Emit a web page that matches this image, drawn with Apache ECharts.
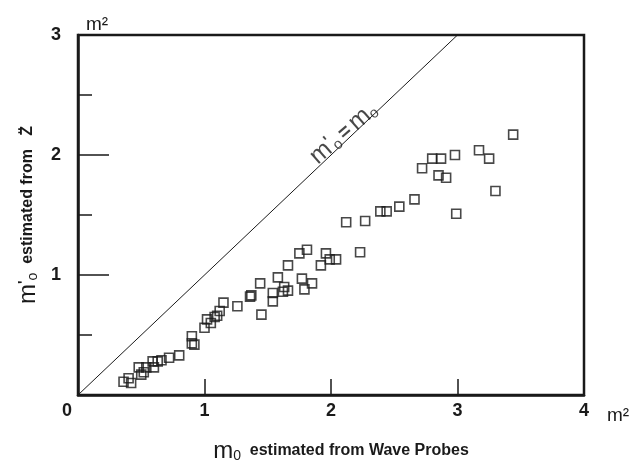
<!DOCTYPE html>
<html>
<head>
<meta charset="utf-8">
<script src="https://cdn.jsdelivr.net/npm/echarts@6/dist/echarts.min.js"></script>
<style>
  html, body { margin: 0; padding: 0; background: #fff; }
  #chart { width: 638px; height: 461px; }
</style>
</head>
<body>
<div id="chart"></div>
<script>
// Spectral moment m0 from wave probes (x) against m'0 from vertical acceleration (y), in m^2
const waveProbeM0 = [
  0.36, 0.42, 0.40, 0.48, 0.50, 0.54, 0.52, 0.59, 0.60, 0.63, 0.66, 0.72, 0.80,
  0.90, 0.90, 0.92, 1.00, 1.02, 1.05, 1.08, 1.10, 1.12, 1.15, 1.26, 1.36, 1.37,
  1.45, 1.44, 1.54, 1.54, 1.58, 1.62, 1.63, 1.66, 1.66, 1.75, 1.81, 1.77, 1.85,
  1.79, 1.92, 1.96, 1.99, 2.04, 2.23, 2.12, 2.27, 2.39, 2.44, 2.54, 2.66, 2.72,
  2.80, 2.87, 2.98, 2.85, 2.91, 2.99, 3.17, 3.25, 3.30, 3.44
];
const accelM0 = [
  0.11, 0.10, 0.14, 0.23, 0.17, 0.23, 0.19, 0.28, 0.23, 0.28, 0.29, 0.31, 0.33,
  0.49, 0.43, 0.42, 0.56, 0.63, 0.60, 0.65, 0.66, 0.70, 0.77, 0.74, 0.82, 0.83,
  0.67, 0.93, 0.85, 0.78, 0.98, 0.86, 0.90, 0.87, 1.08, 1.18, 1.21, 0.97, 0.93,
  0.88, 1.08, 1.18, 1.13, 1.13, 1.19, 1.44, 1.45, 1.53, 1.53, 1.57, 1.63, 1.89,
  1.97, 1.97, 2.00, 1.83, 1.81, 1.51, 2.04, 1.97, 1.70, 2.17
];
const points = waveProbeM0.map((x, i) => [x, accelM0[i]]);

// Line of equality m'0 = m0 and where its caption sits
const identityLine = [[0, 0], [3, 3]];
const identityCaptionAt = [[2.1, 2.18]];

const xTickValues = [0, 1, 2, 3, 4];
const yTickValues = [0, 1, 2, 3];

const ink = '#1a1a1a';
const font = '"Liberation Sans", Arial, sans-serif';

// Rich-text styles shared by the axis titles
const titleRich = {
  m: { fontFamily: font, fontSize: 24, color: ink },
  p: { fontFamily: font, fontSize: 15, fontWeight: 'bold', color: ink, verticalAlign: 'top' },
  s: { fontFamily: font, fontSize: 14, color: ink, verticalAlign: 'bottom' },
  t: { fontFamily: font, fontSize: 16, fontWeight: 'bold', color: ink }
};

const chart = echarts.init(document.getElementById('chart'));
chart.setOption({
  animation: false,
  backgroundColor: '#fff',
  grid: {
    left: 78, right: 54, top: 35, bottom: 66,
    outerBoundsMode: 'none',
    containLabel: false,
    show: true, borderColor: ink, borderWidth: 2.5
  },
  xAxis: {
    type: 'value',
    min: xTickValues[0], max: xTickValues[xTickValues.length - 1], interval: 1,
    name: '{m|m}{s|0}{t|  estimated from Wave Probes}',
    nameLocation: 'middle',
    nameGap: 44,
    nameTextStyle: { rich: titleRich, padding: [0, 0, 0, 20] },
    axisLine: { show: true, lineStyle: { color: ink, width: 2.5 } },
    axisTick: { show: true, inside: true, length: 16, lineStyle: { color: ink, width: 1.5 } },
    splitLine: { show: false },
    axisLabel: {
      margin: 7,
      fontFamily: font, fontSize: 18, fontWeight: 'bold', color: ink,
      formatter: v => v === 0 ? '{z|0}' : String(v),
      rich: { z: { fontFamily: font, fontSize: 18, fontWeight: 'bold', color: ink, padding: [0, 22, 0, 0] } }
    }
  },
  yAxis: {
    type: 'value',
    min: yTickValues[0], max: yTickValues[yTickValues.length - 1], interval: 1,
    name: "{m|m}{p|'}{s|o}{t|  estimated from   Z\u0308}",
    nameLocation: 'middle',
    nameGap: 36,
    nameTextStyle: { rich: titleRich },
    axisLine: { show: true, lineStyle: { color: ink, width: 2.5 } },
    axisTick: { show: true, inside: true, length: 31, lineStyle: { color: ink, width: 1.5 } },
    minorTick: { show: true, splitNumber: 2, length: 14, lineStyle: { color: ink, width: 1.5 } },
    splitLine: { show: false },
    minorSplitLine: { show: false },
    axisLabel: {
      margin: 17, showMinLabel: false,
      fontFamily: font, fontSize: 18, fontWeight: 'bold', color: ink
    }
  },
  // Unit marks at the ends of the two axes
  graphic: [
    { type: 'text', left: 86, top: 15, style: { text: 'm²', font: '19px "Liberation Sans", Arial, sans-serif', fill: ink } },
    { type: 'text', left: 607, top: 406, style: { text: 'm²', font: '19px "Liberation Sans", Arial, sans-serif', fill: ink } }
  ],
  series: [
    {
      type: 'line',
      data: identityLine,
      symbol: 'none',
      lineStyle: { color: ink, width: 1 },
      silent: true,
      z: 2
    },
    {
      type: 'scatter',
      data: points,
      symbol: 'rect',
      symbolSize: 9,
      itemStyle: { color: 'rgba(0,0,0,0)', borderColor: ink, borderWidth: 1.6 },
      z: 3
    },
    {
      type: 'scatter',
      data: identityCaptionAt,
      symbolSize: 0,
      silent: true,
      label: {
        show: true,
        position: 'inside',
        rotate: 41,
        formatter: "{m|m}{p|'}{s|o} {e|=} {m|m}{s|o}",
        rich: {
          m: { fontFamily: font, fontSize: 25, color: ink },
          p: { fontFamily: font, fontSize: 16, fontWeight: 'bold', color: ink, verticalAlign: 'top' },
          s: { fontFamily: font, fontSize: 15, color: ink, verticalAlign: 'bottom' },
          e: { fontFamily: font, fontSize: 20, fontWeight: 'bold', color: ink }
        }
      }
    }
  ]
});
</script>
</body>
</html>
